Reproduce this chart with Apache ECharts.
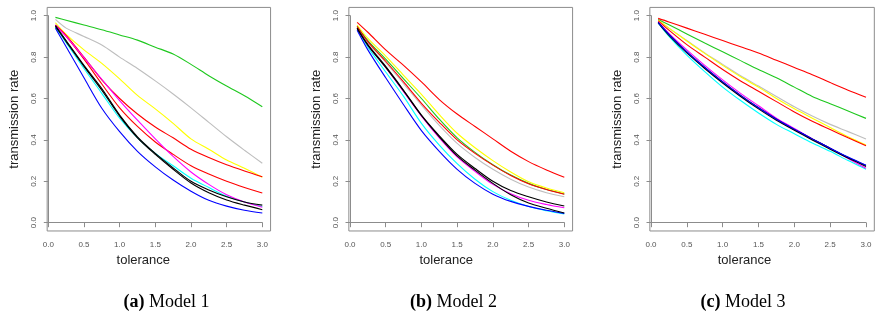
<!DOCTYPE html>
<html>
<head>
<meta charset="utf-8">
<script src="https://cdn.jsdelivr.net/npm/echarts@6/dist/echarts.min.js"></script>
<style>
html,body{margin:0;padding:0;background:#fff;}
#c{width:875px;height:323px;}
</style>
</head>
<body>
<div id="c"></div>
<script>
// x positions (tolerance)
var tolerance = [0.1, 0.25, 0.5, 0.75, 1.0, 1.25, 1.5, 1.75, 2.0, 2.25, 2.5, 2.75, 3.0];
var xTicks = [0, 0.5, 1, 1.5, 2, 2.5, 3];
var yTicks = [0, 0.2, 0.4, 0.6, 0.8, 1.0];
var captions = [['a', ' Model 1'], ['b', ' Model 2'], ['c', ' Model 3']];
var xName = 'tolerance';
var yName = 'transmission rate';

// Model 1
var m1_green   = [0.992,0.978,0.955,0.932,0.907,0.882,0.848,0.815,0.765,0.710,0.660,0.613,0.560];
var m1_gray    = [0.982,0.940,0.900,0.858,0.800,0.745,0.685,0.622,0.555,0.485,0.415,0.350,0.287];
var m1_yellow  = [0.966,0.910,0.835,0.770,0.695,0.615,0.550,0.480,0.405,0.355,0.303,0.263,0.220];
var m1_red1    = [0.955,0.905,0.800,0.690,0.600,0.525,0.462,0.410,0.355,0.315,0.280,0.250,0.222];
var m1_red2    = [0.952,0.900,0.790,0.670,0.555,0.465,0.390,0.330,0.275,0.235,0.200,0.170,0.143];
var m1_magenta = [0.955,0.900,0.797,0.693,0.590,0.495,0.405,0.320,0.245,0.185,0.135,0.100,0.075];
var m1_cyan    = [0.945,0.870,0.745,0.625,0.505,0.410,0.335,0.275,0.215,0.170,0.128,0.100,0.078];
var m1_black1  = [0.952,0.880,0.760,0.648,0.520,0.415,0.335,0.265,0.200,0.158,0.125,0.100,0.085];
var m1_black2  = [0.948,0.875,0.755,0.640,0.515,0.410,0.330,0.258,0.192,0.145,0.110,0.085,0.063];
var m1_blue    = [0.939,0.850,0.700,0.553,0.440,0.345,0.270,0.206,0.152,0.108,0.080,0.060,0.047];

// Model 2
var m2_red1    = [0.968,0.920,0.835,0.760,0.680,0.595,0.525,0.465,0.405,0.345,0.295,0.255,0.220];
var m2_yellow  = [0.955,0.890,0.805,0.712,0.620,0.522,0.432,0.362,0.300,0.245,0.198,0.168,0.145];
var m2_green   = [0.950,0.880,0.790,0.695,0.600,0.500,0.410,0.340,0.280,0.230,0.190,0.160,0.139];
var m2_red2    = [0.948,0.875,0.780,0.680,0.577,0.485,0.400,0.335,0.278,0.228,0.188,0.160,0.137];
var m2_gray    = [0.945,0.870,0.775,0.672,0.568,0.470,0.383,0.315,0.258,0.210,0.172,0.145,0.125];
var m2_black1  = [0.940,0.860,0.755,0.640,0.520,0.420,0.330,0.262,0.200,0.155,0.125,0.100,0.081];
var m2_magenta = [0.938,0.858,0.750,0.633,0.515,0.410,0.318,0.248,0.185,0.140,0.108,0.088,0.072];
var m2_black2  = [0.938,0.857,0.750,0.637,0.518,0.415,0.323,0.254,0.190,0.135,0.095,0.070,0.047];
var m2_cyan    = [0.935,0.848,0.728,0.610,0.480,0.375,0.285,0.210,0.150,0.108,0.078,0.058,0.042];
var m2_blue    = [0.930,0.835,0.700,0.570,0.445,0.345,0.258,0.190,0.138,0.103,0.079,0.060,0.045];

// Model 3
var m3_red1    = [0.987,0.970,0.940,0.910,0.880,0.850,0.820,0.785,0.750,0.715,0.677,0.640,0.606];
var m3_green   = [0.982,0.956,0.912,0.868,0.826,0.783,0.740,0.700,0.655,0.610,0.575,0.540,0.504];
var m3_gray    = [0.978,0.940,0.880,0.820,0.765,0.710,0.660,0.610,0.560,0.515,0.475,0.440,0.404];
var m3_yellow  = [0.978,0.940,0.878,0.818,0.760,0.705,0.655,0.600,0.550,0.505,0.460,0.415,0.375];
var m3_red2    = [0.975,0.930,0.860,0.800,0.740,0.685,0.635,0.585,0.535,0.490,0.450,0.410,0.372];
var m3_magenta = [0.970,0.915,0.835,0.760,0.690,0.625,0.565,0.505,0.455,0.405,0.360,0.310,0.263];
var m3_black1  = [0.968,0.910,0.825,0.750,0.680,0.615,0.555,0.500,0.450,0.405,0.360,0.315,0.276];
var m3_black2  = [0.965,0.905,0.820,0.745,0.675,0.610,0.550,0.495,0.447,0.400,0.355,0.312,0.272];
var m3_blue    = [0.966,0.910,0.825,0.750,0.680,0.615,0.555,0.500,0.452,0.405,0.360,0.317,0.277];
var m3_cyan    = [0.965,0.900,0.810,0.730,0.655,0.590,0.530,0.475,0.430,0.385,0.345,0.300,0.258];

var COL = {red:'#ff0000', green:'#1ec81e', gray:'#bebebe', yellow:'#ffff00',
           magenta:'#ff00ff', cyan:'#00ffff', black:'#000000', blue:'#0000ff'};

var panels = [
  {series:[['gray',m1_gray],['green',m1_green],['yellow',m1_yellow],['red',m1_red1],['red',m1_red2],
           ['cyan',m1_cyan],['magenta',m1_magenta],['blue',m1_blue],['black',m1_black1],['black',m1_black2]]},
  {series:[['gray',m2_gray],['green',m2_green],['yellow',m2_yellow],['red',m2_red1],['red',m2_red2],
           ['cyan',m2_cyan],['magenta',m2_magenta],['blue',m2_blue],['black',m2_black1],['black',m2_black2]]},
  {series:[['gray',m3_gray],['green',m3_green],['yellow',m3_yellow],['red',m3_red1],['red',m3_red2],
           ['cyan',m3_cyan],['magenta',m3_magenta],['black',m3_black1],['black',m3_black2],['blue',m3_blue]]}
];

// layout (pixel geometry of each panel's data area: x 0..3, y 0..1)
var layout = [
  {left:48.3, width:214.0, capX:161.5, nameShift:24},
  {left:350.0, width:214.3, capX:448.5, nameShift:22},
  {left:651.0, width:215.0, capX:738.0, nameShift:28}
];
var dataTop = 15.7, dataH = 207.0;
var padX = 0.116, padXL = 0.016, padY = 0.04;

var grids = [], xAxes = [], yAxes = [], series = [], titles = [];
var axisGray = '#8c8c8c', labGray = '#555';
layout.forEach(function(L, i){
  var ppx = L.width / 3, ppy = dataH / 1;
  grids.push({left:L.left, top:dataTop, width:L.width, height:dataH, containLabel:false});
  grids.push({left:L.left - padXL*ppx, top:dataTop - padY*ppy,
              width:L.width + (padXL+padX)*ppx, height:dataH + 2*padY*ppy,
              show:true, borderColor:axisGray, borderWidth:1, backgroundColor:'transparent', containLabel:false});
  var gi = i*2;
  xAxes.push({gridIndex:gi, type:'value', min:0, max:3, interval:0.5, offset:padY*ppy,
    axisLine:{show:true, lineStyle:{color:axisGray, width:1}},
    axisTick:{show:true, length:4.5, lineStyle:{color:axisGray}},
    splitLine:{show:false},
    axisLabel:{margin:10, fontSize:8, color:labGray, fontFamily:'Liberation Sans',
      formatter:function(v){return v.toFixed(1);}},
    name:xName, nameLocation:'middle', nameGap:23,
    nameTextStyle:{fontSize:13, color:'#222', fontFamily:'Liberation Sans', padding:[0, L.nameShift, 0, 0]}
  });
  yAxes.push({gridIndex:gi, type:'value', min:0, max:1, interval:0.2, offset:padXL*ppx,
    axisLine:{show:true, lineStyle:{color:axisGray, width:1}},
    axisTick:{show:true, length:4.5, lineStyle:{color:axisGray}},
    splitLine:{show:false},
    axisLabel:{margin:9.5, fontSize:8, color:labGray, rotate:90, fontFamily:'Liberation Sans',
      formatter:function(v){return v.toFixed(1);}},
    name:yName, nameLocation:'middle', nameGap:26, nameRotate:90,
    nameTextStyle:{fontSize:13, color:'#222', fontFamily:'Liberation Sans'}
  });
  xAxes.push({gridIndex:gi+1, type:'value', min:0, max:1, show:false});
  yAxes.push({gridIndex:gi+1, type:'value', min:0, max:1, show:false});
  panels[i].series.forEach(function(s){
    series.push({type:'line', xAxisIndex:i*2, yAxisIndex:i*2, showSymbol:false, symbol:'none',
      animation:false, silent:true, clip:true, smooth:0.3,
      lineStyle:{color:COL[s[0]], width:1.1},
      data:tolerance.map(function(x, k){return [x, s[1][k]];})});
  });
  titles.push({text:'{b|(' + captions[i][0] + ')}{n|' + captions[i][1] + '}',
    left:L.capX, top:288, textAlign:'center',
    textStyle:{fontWeight:'normal', fontFamily:'Liberation Serif', fontSize:18, rich:{
      b:{fontFamily:'Liberation Serif', fontWeight:'bold', fontSize:18, color:'#000'},
      n:{fontFamily:'Liberation Serif', fontWeight:'normal', fontSize:18, color:'#000'}
    }}});
});

var chart = echarts.init(document.getElementById('c'), null, {renderer:'canvas'});
chart.setOption({
  animation:false,
  backgroundColor:'#fff',
  title:titles,
  grid:grids, xAxis:xAxes, yAxis:yAxes, series:series
});
</script>
</body>
</html>
